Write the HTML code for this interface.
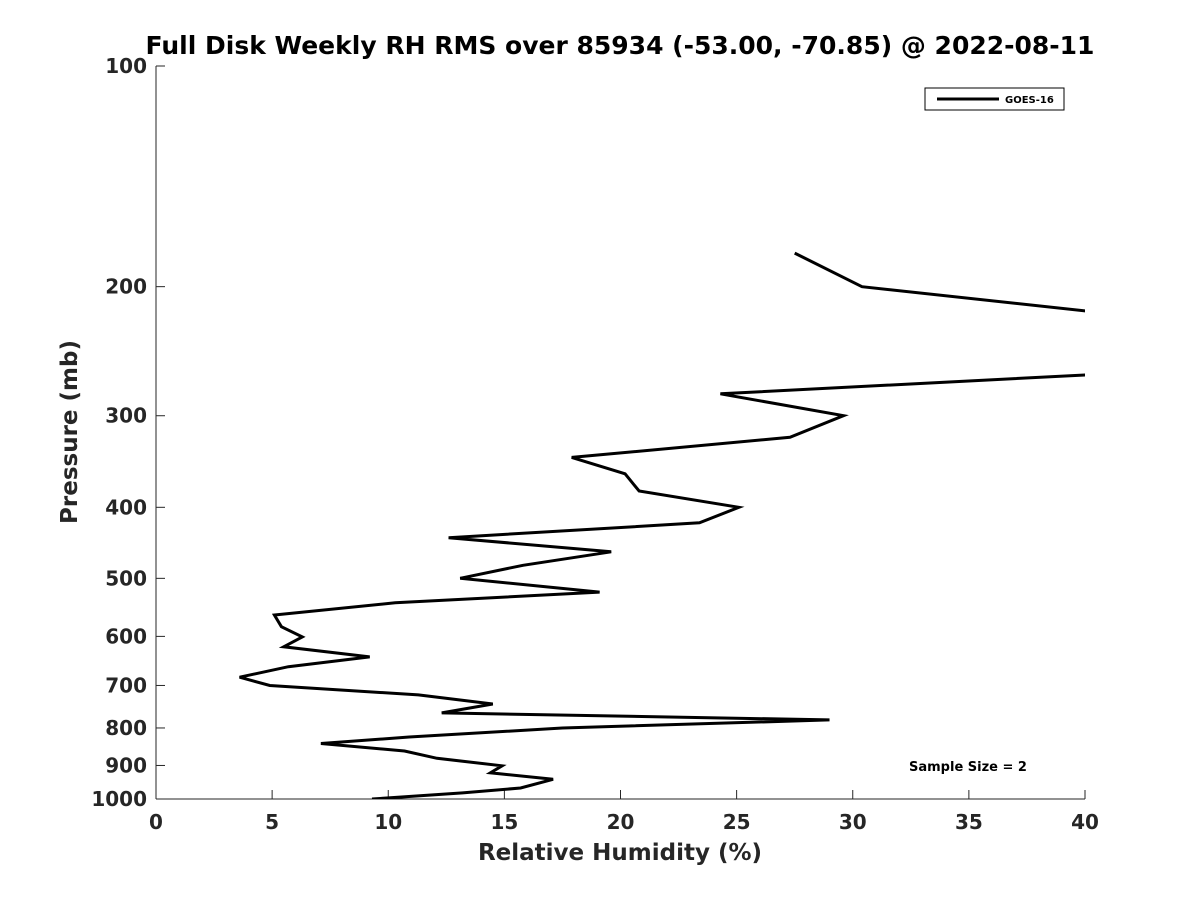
<!DOCTYPE html>
<html><head><meta charset="utf-8"><style>
body{margin:0;background:#fff;}
svg text{font-family:"DejaVu Sans","Liberation Sans",sans-serif;font-weight:bold;fill:#262626;}
</style></head><body>
<svg id="chart" width="1200" height="900" xmlns="http://www.w3.org/2000/svg">
<rect width="1200" height="900" fill="#fff"/>
<text x="620" y="54" text-anchor="middle" font-size="25" style="fill:#000">Full Disk Weekly RH RMS over 85934 (-53.00, -70.85) @ 2022-08-11</text>
<defs><clipPath id="plotclip"><rect x="156" y="66" width="929" height="733"/></clipPath></defs>
<g id="axes"></g>
<path id="series" fill="none" stroke="#000" stroke-width="3" clip-path="url(#plotclip)"/>
<g>
<rect x="925" y="88" width="139" height="22" fill="#fff" stroke="#000" stroke-width="1"/>
<line x1="937" y1="99" x2="999" y2="99" stroke="#000" stroke-width="3"/>
<text x="1005" y="103" font-size="10" style="fill:#000">GOES-16</text>
</g>
<text x="968" y="771" text-anchor="middle" font-size="13" style="fill:#000">Sample Size = 2</text>
<text x="620" y="860" text-anchor="middle" font-size="23">Relative Humidity (%)</text>
<text transform="translate(77,432) rotate(-90)" text-anchor="middle" font-size="23">Pressure (mb)</text>
</svg>
<script>
const pressures=[180,200,230,250,264,280,300,321,342,360,380,400,420,440,460,480,500,522,540,561,582,601,620,640,660,682,700,721,742,763,780,800,823,840,860,880,901,921,940,966,981,1000];
const rhValues=[27.5,30.4,48,54,40,24.3,29.6,27.3,17.9,20.2,20.8,25.1,23.4,12.6,19.6,15.8,13.1,19.1,10.3,5.1,5.4,6.3,5.5,9.2,5.7,3.6,4.9,11.3,14.5,12.3,29.0,17.5,10.9,7.1,10.7,12.1,14.9,14.4,17.1,15.7,13.2,9.3];
const xTicks=[0,5,10,15,20,25,30,35,40];
const yTicks=[100,200,300,400,500,600,700,800,900,1000];
const X0=156,X1=1085,Y0=66,Y1=799;
const xs=v=>X0+(v-0)/(40-0)*(X1-X0);
const ys=p=>Y0+Math.log10(p/100)*(Y1-Y0);
const NS="http://www.w3.org/2000/svg";
const axes=document.getElementById('axes');
function mk(tag,attrs){const e=document.createElementNS(NS,tag);for(const k in attrs)e.setAttribute(k,attrs[k]);return e;}
const l1=mk('line',{x1:X0,y1:Y0,x2:X0,y2:Y1,stroke:'#262626','stroke-width':1});


axes.appendChild(l1);
const l2=mk('line',{x1:X0,y1:Y1,x2:X1,y2:Y1,stroke:'#262626','stroke-width':1});


axes.appendChild(l2);
xTicks.forEach(t=>{
 const x=xs(t);
 const tk=mk('line',{x1:x,y1:Y1,x2:x,y2:Y1-9,stroke:'#262626'});
 
 
 axes.appendChild(tk);
 const tx=mk('text',{x:x,y:Y1+30,'text-anchor':'middle','font-size':20});
 
 
 tx.textContent=t;axes.appendChild(tx);
});
yTicks.forEach(t=>{
 const y=ys(t);
 const tk=mk('line',{x1:X0,y1:y,x2:X0+9,y2:y,stroke:'#262626'});
 
 
 axes.appendChild(tk);
 const tx=mk('text',{x:X0-9,y:y+7,'text-anchor':'end','font-size':20});
 
 
 tx.textContent=t;axes.appendChild(tx);
});
document.getElementById('series').setAttribute('d',pressures.map((p,i)=>(i?'L':'M')+xs(rhValues[i]).toFixed(1)+','+ys(p).toFixed(1)).join(' '));
</script>
</body></html>
